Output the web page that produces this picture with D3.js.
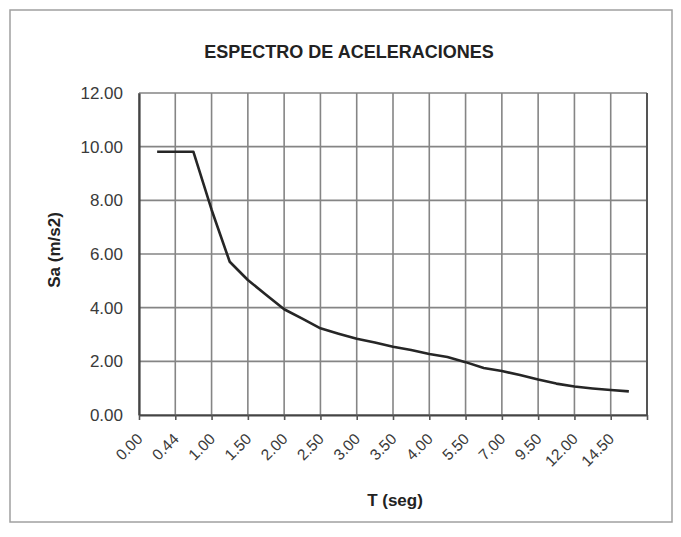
<!DOCTYPE html>
<html>
<head>
<meta charset="utf-8">
<script src="https://cdn.jsdelivr.net/npm/d3@7/dist/d3.min.js"></script>
<style>
  html, body { margin: 0; padding: 0; background: #fff; }
  svg { display: block; }
  text { font-family: "Liberation Sans", Arial, sans-serif; }
</style>
</head>
<body>
<svg id="chart" width="681" height="537"></svg>
<script>
// Period categories (s); only every second category carries a label.
const periodLabels = [
  "0.00", "", "0.44", "", "1.00", "", "1.50", "", "2.00", "", "2.50", "",
  "3.00", "", "3.50", "", "4.00", "", "5.50", "", "7.00", "", "9.50", "",
  "12.00", "", "14.50", "", ""
];

// Spectral acceleration Sa (m/s2) for each category (null = no value).
const saValues = [
  null, 9.81, 9.81, 9.81, 7.65, 5.71, 5.03, 4.48, 3.94, 3.59, 3.23, 3.03,
  2.84, 2.70, 2.54, 2.42, 2.27, 2.16, 1.97, 1.75, 1.64, 1.49, 1.32, 1.17,
  1.06, 0.99, 0.93, 0.88, null
];

// Value axis ticks.
const saTicks = [0, 2, 4, 6, 8, 10, 12];

const titleText = "ESPECTRO DE ACELERACIONES";
const xTitle = "T (seg)";
const yTitle = "Sa (m/s2)";

const svg = d3.select("#chart");
const plot = { left: 139, right: 647, top: 93, bottom: 415 };

// Chart area frame
svg.append("rect")
  .attr("x", 10).attr("y", 10)
  .attr("width", 662).attr("height", 512)
  .attr("fill", "#fff")
  .attr("stroke", "#a0a0a0")
  .attr("stroke-width", 1.5);

const idx = d3.range(periodLabels.length);
const x = d3.scalePoint().domain(idx).range([plot.left, plot.right]).padding(0);
const y = d3.scaleLinear().domain([0, 12]).range([plot.bottom, plot.top]);

// Categories that get a gridline / tick mark
const gridIdx = idx.filter(i => i % 2 === 0);

// Horizontal gridlines
svg.append("g")
  .selectAll("line")
  .data(saTicks)
  .join("line")
  .attr("x1", plot.left).attr("x2", plot.right)
  .attr("y1", d => y(d)).attr("y2", d => y(d))
  .attr("stroke", "#858585")
  .attr("stroke-width", 1.6);

// Vertical gridlines
svg.append("g")
  .selectAll("line")
  .data(gridIdx)
  .join("line")
  .attr("x1", d => x(d)).attr("x2", d => x(d))
  .attr("y1", plot.top).attr("y2", plot.bottom)
  .attr("stroke", "#858585")
  .attr("stroke-width", 1.6);

// Right border of the plot area
svg.append("line")
  .attr("x1", plot.right).attr("x2", plot.right)
  .attr("y1", plot.top).attr("y2", plot.bottom)
  .attr("stroke", "#555").attr("stroke-width", 2);

// Y axis
const yAxis = d3.axisLeft(y)
  .tickValues(saTicks)
  .tickFormat(d3.format(".2f"))
  .tickSize(0)
  .tickPadding(16);
const gy = svg.append("g")
  .attr("transform", `translate(${plot.left},0)`)
  .call(yAxis);
gy.select(".domain").attr("stroke", "#444").attr("stroke-width", 2.2);
gy.selectAll("text")
  .attr("font-size", 17)
  .attr("fill", "#3a3a3a")
  .attr("font-family", "Liberation Sans, Arial, sans-serif");

// X axis
const xAxis = d3.axisBottom(x)
  .tickValues(gridIdx)
  .tickFormat(i => periodLabels[i])
  .tickSize(5)
  .tickSizeOuter(0);
const gx = svg.append("g")
  .attr("transform", `translate(0,${plot.bottom})`)
  .call(xAxis);
gx.select(".domain").attr("stroke", "#444").attr("stroke-width", 2.2);
gx.selectAll(".tick line").attr("stroke", "#555").attr("stroke-width", 1.6);
gx.selectAll("text")
  .attr("font-size", 15.5)
  .attr("fill", "#3a3a3a")
  .attr("font-family", "Liberation Sans, Arial, sans-serif")
  .attr("text-anchor", "end")
  .attr("dx", 0).attr("dy", 0)
  .attr("y", 0)
  .attr("transform", "translate(4,25) rotate(-45)");

// Response spectrum line
const line = d3.line()
  .defined(d => d.v != null)
  .x(d => x(d.i))
  .y(d => y(d.v))
  .curve(d3.curveLinear);
svg.append("path")
  .datum(saValues.map((v, i) => ({ i, v })))
  .attr("d", line)
  .attr("fill", "none")
  .attr("stroke", "#262626")
  .attr("stroke-width", 2.6)
  .attr("stroke-linejoin", "round");

// Titles
svg.append("text")
  .attr("x", 349).attr("y", 58)
  .attr("text-anchor", "middle")
  .attr("font-size", 18)
  .attr("font-weight", "bold")
  .attr("fill", "#222")
  .text(titleText);

svg.append("text")
  .attr("x", 395).attr("y", 506)
  .attr("text-anchor", "middle")
  .attr("font-size", 17)
  .attr("font-weight", "bold")
  .attr("fill", "#222")
  .text(xTitle);

svg.append("text")
  .attr("transform", `translate(60,${(plot.top + plot.bottom) / 2 - 4}) rotate(-90)`)
  .attr("text-anchor", "middle")
  .attr("font-size", 17)
  .attr("font-weight", "bold")
  .attr("fill", "#222")
  .text(yTitle);
</script>
</body>
</html>
